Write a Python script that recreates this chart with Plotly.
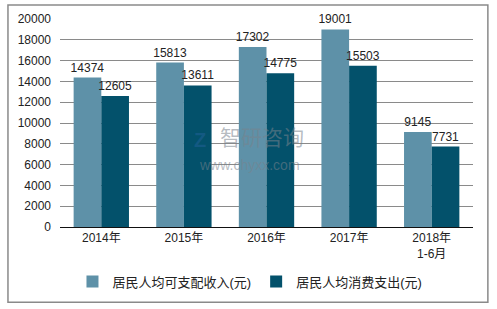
import plotly.graph_objects as go

categories = ["2014年", "2015年", "2016年", "2017年", "2018年<br>1-6月"]
income = [14374, 15813, 17302, 19001, 9145]
consume = [12605, 13611, 14775, 15503, 7731]
series_names = ["居民人均可支配收入(元)", "居民人均消费支出(元)"]
colors = ["#5E91A8", "#03516B"]
y_ticks = list(range(0, 20001, 2000))

FONT = "Arial, Liberation Sans, Noto Sans CJK SC, sans-serif"

fig = go.Figure()
for name, vals, col in zip(series_names, [income, consume], colors):
    fig.add_trace(go.Bar(
        x=categories, y=vals, name=name, marker_color=col,
        marker_line_width=0,
        text=[str(v) for v in vals], textposition="outside",
        textfont=dict(size=12, color="#222", family=FONT),
        constraintext="none",
        cliponaxis=False,
    ))

fig.update_layout(
    width=497, height=309,
    margin=dict(l=60, r=24, t=19, b=80),
    paper_bgcolor="white", plot_bgcolor="white",
    barmode="group", bargap=0.33, bargroupgap=0,
    font=dict(family=FONT, size=12, color="#222"),
    showlegend=True,
    legend=dict(orientation="h", x=0.46, xanchor="center", y=-0.262, yanchor="middle",
                font=dict(size=13, color="#222"), itemwidth=30, traceorder="normal",
                tracegroupgap=0),
    xaxis=dict(showline=True, linecolor="#111", linewidth=1, ticks="",
               tickfont=dict(size=12, color="#222")),
    yaxis=dict(range=[0, 20000], tickvals=y_ticks, tickformat="d", showgrid=True,
               gridcolor="#8a8a8a", gridwidth=1, zeroline=False, showline=False,
               ticklabelstandoff=8, tickfont=dict(size=12, color="#222")),
)

# outer border
fig.add_shape(type="rect", xref="paper", yref="paper",
              x0=-0.126, x1=1.036, y0=-0.362, y1=1.067,
              line=dict(color="#8a8a8a", width=1.5), fillcolor="rgba(0,0,0,0)", layer="below")

# watermark
fig.add_annotation(text="智研咨询", xref="paper", yref="paper", x=0.49, y=0.355,
                   yanchor="bottom", showarrow=False,
                   font=dict(size=21, color="rgba(120,130,140,0.55)", family="Noto Sans CJK SC"))
fig.add_annotation(text="www.chyxx.com", xref="paper", yref="paper", x=0.458, y=0.345,
                   yanchor="top", showarrow=False,
                   font=dict(size=14, color="rgba(120,130,140,0.55)", family=FONT))
fig.add_annotation(text="<b>Z</b>", xref="paper", yref="paper", x=0.32, y=0.355,
                   yanchor="bottom", showarrow=False,
                   font=dict(size=20, color="rgba(40,100,160,0.45)", family=FONT))

fig.write_html("out.html")
